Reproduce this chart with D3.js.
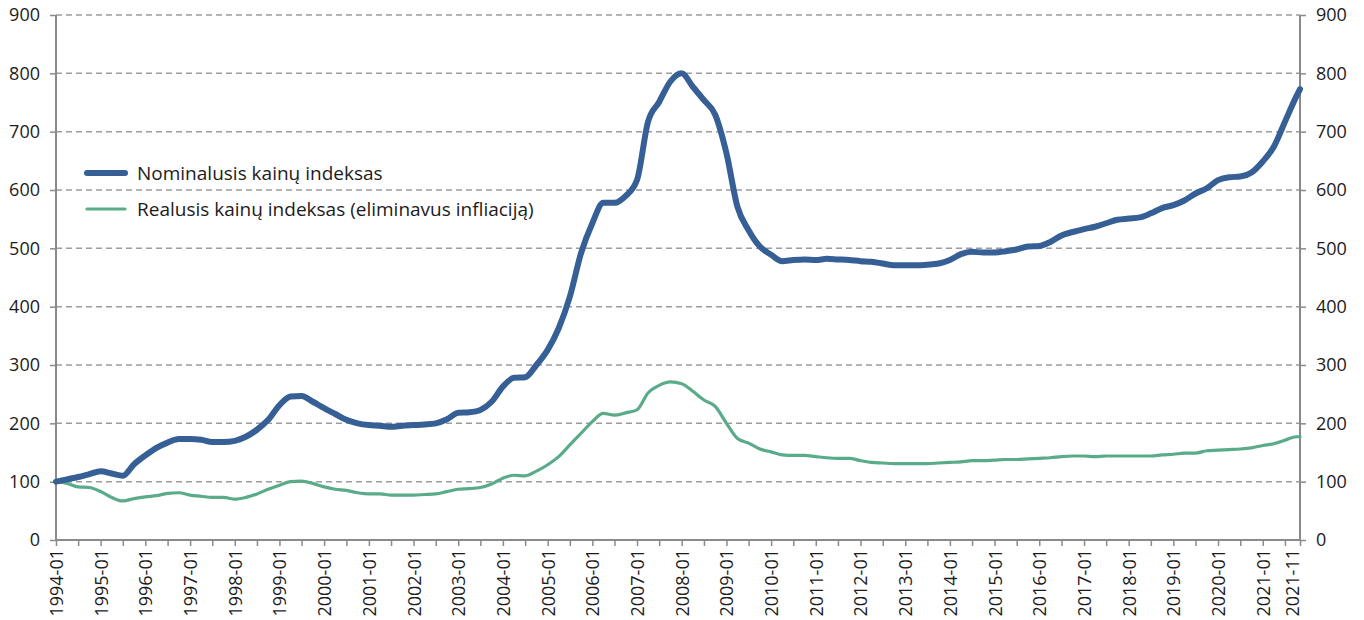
<!DOCTYPE html>
<html>
<head>
<meta charset="utf-8">
<script src="https://cdn.jsdelivr.net/npm/d3@7"></script>
<style>
  body { margin: 0; background: #fff; }
  svg text { font-family: "Open Sans", "Noto Sans", sans-serif; fill: #1d1b1c; }
</style>
</head>
<body>
<div id="chart"></div>
<script>
// quarterly readings, 1994-01 .. 2021-10, plus last month 2021-11
var periods = [
  "1994-01","1994-04","1994-07","1994-10",
  "1995-01","1995-04","1995-07","1995-10",
  "1996-01","1996-04","1996-07","1996-10",
  "1997-01","1997-04","1997-07","1997-10",
  "1998-01","1998-04","1998-07","1998-10",
  "1999-01","1999-04","1999-07","1999-10",
  "2000-01","2000-04","2000-07","2000-10",
  "2001-01","2001-04","2001-07","2001-10",
  "2002-01","2002-04","2002-07","2002-10",
  "2003-01","2003-04","2003-07","2003-10",
  "2004-01","2004-04","2004-07","2004-10",
  "2005-01","2005-04","2005-07","2005-10",
  "2006-01","2006-04","2006-07","2006-10",
  "2007-01","2007-04","2007-07","2007-10",
  "2008-01","2008-04","2008-07","2008-10",
  "2009-01","2009-04","2009-07","2009-10",
  "2010-01","2010-04","2010-07","2010-10",
  "2011-01","2011-04","2011-07","2011-10",
  "2012-01","2012-04","2012-07","2012-10",
  "2013-01","2013-04","2013-07","2013-10",
  "2014-01","2014-04","2014-07","2014-10",
  "2015-01","2015-04","2015-07","2015-10",
  "2016-01","2016-04","2016-07","2016-10",
  "2017-01","2017-04","2017-07","2017-10",
  "2018-01","2018-04","2018-07","2018-10",
  "2019-01","2019-04","2019-07","2019-10",
  "2020-01","2020-04","2020-07","2020-10",
  "2021-01","2021-04","2021-07","2021-10",
  "2021-11"
];

var nominal = [
  100, 104, 108, 113,
  118, 114, 110, 130,
  145, 158, 167, 173,
  173, 172, 168, 168,
  170, 177, 189, 206,
  231, 246, 247, 237,
  226, 216, 206, 200,
  197, 196, 194, 196,
  197, 198, 200, 207,
  218, 219, 223, 237,
  263, 278, 279, 300,
  326, 363, 417, 492,
  543, 578, 578, 590,
  617, 717, 751, 786,
  800, 777, 754, 729,
  663, 571, 531, 503,
  489, 478, 480, 481,
  480, 482, 481, 480,
  478, 477, 474, 471,
  471, 471, 472, 474,
  480, 490, 494, 493,
  493, 495, 498, 503,
  504, 511, 522, 528,
  533, 537, 543, 549,
  551, 553, 560, 569,
  574, 582, 594, 603,
  617, 622, 623, 630,
  649, 674, 717, 760,
  773
];

var real = [
  100, 97, 91, 90,
  83, 73, 67, 71,
  74, 76, 80, 81,
  77, 75, 73, 73,
  70, 73, 79, 87,
  94, 100, 101, 97,
  91, 87, 85, 81,
  79, 79, 77, 77,
  77, 78, 79, 83,
  87, 88, 90, 96,
  106, 111, 110, 118,
  129, 143, 163, 183,
  203, 217, 214, 218,
  223, 252, 265, 271,
  268, 255, 240, 229,
  200, 174, 166, 156,
  151, 146, 145, 145,
  143, 141, 140, 140,
  136, 133, 132, 131,
  131, 131, 131, 132,
  133, 134, 136, 136,
  137, 138, 138, 139,
  140, 141, 143, 144,
  144, 143, 144, 144,
  144, 144, 144, 146,
  147, 149, 149, 153,
  154, 155, 156, 158,
  162, 165, 171, 177,
  177
];

var xLabels = [
  "1994-01","1995-01","1996-01","1997-01","1998-01","1999-01","2000-01",
  "2001-01","2002-01","2003-01","2004-01","2005-01","2006-01","2007-01",
  "2008-01","2009-01","2010-01","2011-01","2012-01","2013-01","2014-01",
  "2015-01","2016-01","2017-01","2018-01","2019-01","2020-01","2021-01","2021-11"
];

var yTicks = [0, 100, 200, 300, 400, 500, 600, 700, 800, 900];

var seriesNames = ["Nominalusis kainų indeksas", "Realusis kainų indeksas (eliminavus infliaciją)"];

var width = 1364, height = 620;
var margin = { top: 15, right: 64, bottom: 80, left: 56 };

var parse = d3.timeParse("%Y-%m");
var fmt = d3.timeFormat("%Y-%m");

var svg = d3.select("#chart").append("svg")
    .attr("width", width)
    .attr("height", height);

var x = d3.scaleTime()
    .domain([parse(periods[0]), parse(periods[periods.length - 1])])
    .range([margin.left, width - margin.right]);

var y = d3.scaleLinear()
    .domain([0, 900])
    .range([height - margin.bottom, margin.top]);

var axisColor = "#8a8a8a";

// gridlines
svg.append("g")
    .selectAll("line")
    .data(yTicks.slice(1))
    .enter()
    .append("line")
    .attr("x1", x.range()[0])
    .attr("x2", x.range()[1])
    .attr("y1", function (d) { return y(d); })
    .attr("y2", function (d) { return y(d); })
    .style("stroke", "#9c9c9c")
    .style("stroke-width", 1.5)
    .style("stroke-dasharray", "6,4");

// x axis: half-year ticks, labels yearly + last month
var halfYears = d3.timeMonth.every(6).range(parse(periods[0]), parse("2021-08"));
var tickDates = halfYears.concat([parse(periods[periods.length - 1])]);

var xAxis = d3.axisBottom(x)
    .tickValues(tickDates)
    .tickSize(6)
    .tickFormat(function (d) {
        var s = fmt(d);
        return xLabels.indexOf(s) >= 0 ? s : "";
    });

var gx = svg.append("g")
    .attr("transform", "translate(0," + y(0) + ")")
    .call(xAxis);

gx.select(".domain").remove();
gx.selectAll(".tick line").style("stroke", axisColor).style("stroke-width", 1.5);
gx.selectAll(".tick text")
    .attr("transform", "rotate(-90)")
    .attr("text-anchor", "end")
    .attr("x", -9)
    .attr("y", 0)
    .attr("dy", "0.36em")
    .style("font-size", "18px");
gx.selectAll(".tick text")
    .filter(function (d) { return fmt(d) === "2021-11"; })
    .attr("y", -8);

// y axes, left and right
var gyl = svg.append("g")
    .attr("transform", "translate(" + x.range()[0] + ",0)")
    .call(d3.axisLeft(y).tickValues(yTicks).tickSize(6).tickPadding(10));
var gyr = svg.append("g")
    .attr("transform", "translate(" + x.range()[1] + ",0)")
    .call(d3.axisRight(y).tickValues(yTicks).tickSize(6).tickPadding(10));

[gyl, gyr].forEach(function (g) {
    g.select(".domain").remove();
    g.selectAll(".tick line").style("stroke", axisColor).style("stroke-width", 1.5);
    g.selectAll(".tick text").style("font-size", "18px");
});

// axis frame lines
svg.append("line")
    .attr("x1", x.range()[0]).attr("x2", x.range()[1])
    .attr("y1", y(0)).attr("y2", y(0))
    .style("stroke", axisColor).style("stroke-width", 2);
svg.append("line")
    .attr("x1", x.range()[0]).attr("x2", x.range()[0])
    .attr("y1", y(0)).attr("y2", y(900))
    .style("stroke", axisColor).style("stroke-width", 2);
svg.append("line")
    .attr("x1", x.range()[1]).attr("x2", x.range()[1])
    .attr("y1", y(0)).attr("y2", y(900))
    .style("stroke", axisColor).style("stroke-width", 2);

// lines
var series = [
    { name: seriesNames[0], values: nominal, color: "#365f96", width: 6 },
    { name: seriesNames[1], values: real, color: "#5aab8a", width: 3.2 }
];

var line = d3.line()
    .x(function (d) { return x(d.date); })
    .y(function (d) { return y(d.value); })
    .curve(d3.curveMonotoneX);

series.slice().reverse().forEach(function (s) {
    var pts = periods.map(function (p, i) {
        return { date: parse(p), value: s.values[i] };
    });
    svg.append("path")
        .datum(pts)
        .attr("d", line)
        .style("fill", "none")
        .style("stroke", s.color)
        .style("stroke-width", s.width)
        .style("stroke-linejoin", "round")
        .style("stroke-linecap", "round");
});

// legend
var legend = svg.append("g").attr("transform", "translate(87,173)");
series.forEach(function (s, i) {
    var g = legend.append("g").attr("transform", "translate(0," + (i * 36) + ")");
    g.append("line")
        .attr("x1", 0).attr("x2", 38)
        .attr("y1", 0).attr("y2", 0)
        .style("stroke", s.color)
        .style("stroke-width", s.width)
        .style("stroke-linecap", "round");
    g.append("text")
        .attr("x", 50)
        .attr("y", 0)
        .attr("dy", "0.35em")
        .style("font-size", "19px")
        .text(s.name);
});
</script>
</body>
</html>
